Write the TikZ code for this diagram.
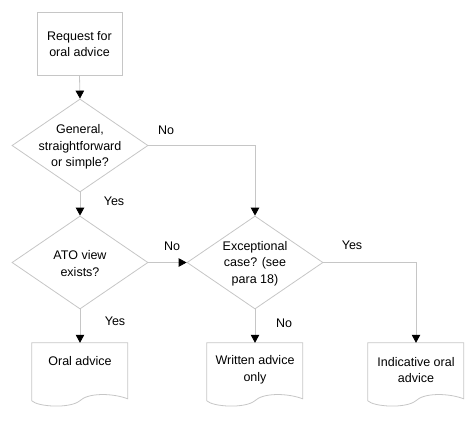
\documentclass[tikz,border=0pt]{standalone}
\usepackage{fontspec}
\setmainfont{Liberation Sans}
\usetikzlibrary{shapes.geometric,arrows.meta}
\definecolor{linegray}{RGB}{198,198,198}
\begin{document}
\begin{tikzpicture}[x=1pt,y=-1pt,
  line/.style={draw=linegray,line width=0.8pt},
  arr/.style={line,-{Triangle[width=8.5pt,length=8pt,fill=black,color=black]}},
  procbox/.style={line,rectangle,minimum width=85pt,minimum height=63pt,inner sep=0pt},
  dia/.style={line,diamond,minimum width=136pt,minimum height=93pt,inner sep=0pt},
  docbox/.style={rectangle,minimum width=96pt,minimum height=64pt,inner sep=0pt},
  txt/.style={align=center,font=\fontsize{12.5}{16.7}\selectfont,inner sep=0pt},
  lbl/.style={font=\fontsize{12.5}{15}\selectfont,inner sep=0pt}]
\useasboundingbox (0,0) rectangle (476,420);

% start box
\node[procbox] (start) at (79.5,43.5) {};
\node[txt] at (79.5,44) {Request for\\oral advice};

% decisions
\node[dia] (d1) at (80,145.5) {};
\node[txt] at (80,147) {General,\\straightforward\\or simple?};
\node[dia] (d2) at (80,262.5) {};
\node[txt] at (80,263.5) {ATO view\\exists?};
\node[dia] (d3) at (255,262.5) {};
\node[txt] at (255,263.5) {Exceptional\\case? (see\\para 18)};

% documents
\newcommand\docpath[1]{%
  \draw[line,shift={(#1.north west)}] (0,0) -- (96,0) -- (96,56)
    .. controls (80,50) and (56,50) .. (48,58)
    .. controls (38,66) and (6,64) .. (0,58) -- cycle;}
\node[docbox] (o1) at (80,375) {};
\docpath{o1}
\node[txt] at (80,361) {Oral advice};
\node[docbox] (o2) at (255,375) {};
\docpath{o2}
\node[txt] at (255,370) {Written advice\\only};
\node[docbox] (o3) at (416,375) {};
\docpath{o3}
\node[txt] at (416,370) {Indicative oral\\advice};

% connectors
\draw[arr] (start.south) -- (d1.north);
\draw[arr] (d1.east) -| (d3.north);
\draw[arr] (d1.south) -- (d2.north);
\draw[arr] (d2.east) -- (d3.west);
\draw[arr] (d2.south) -- (o1.north);
\draw[arr] (d3.south) -- (o2.north);
\draw[arr] (d3.east) -| (o3.north);

% labels
\node[lbl] (l1) at (166,130) {No};
\node[lbl] (l2) at (114,201) {Yes};
\node[lbl] (l3) at (172,246) {No};
\node[lbl] (l4) at (115,321) {Yes};
\node[lbl] (l5) at (352,245) {Yes};
\node[lbl] (l6) at (284,323) {No};
\end{tikzpicture}
\end{document}
